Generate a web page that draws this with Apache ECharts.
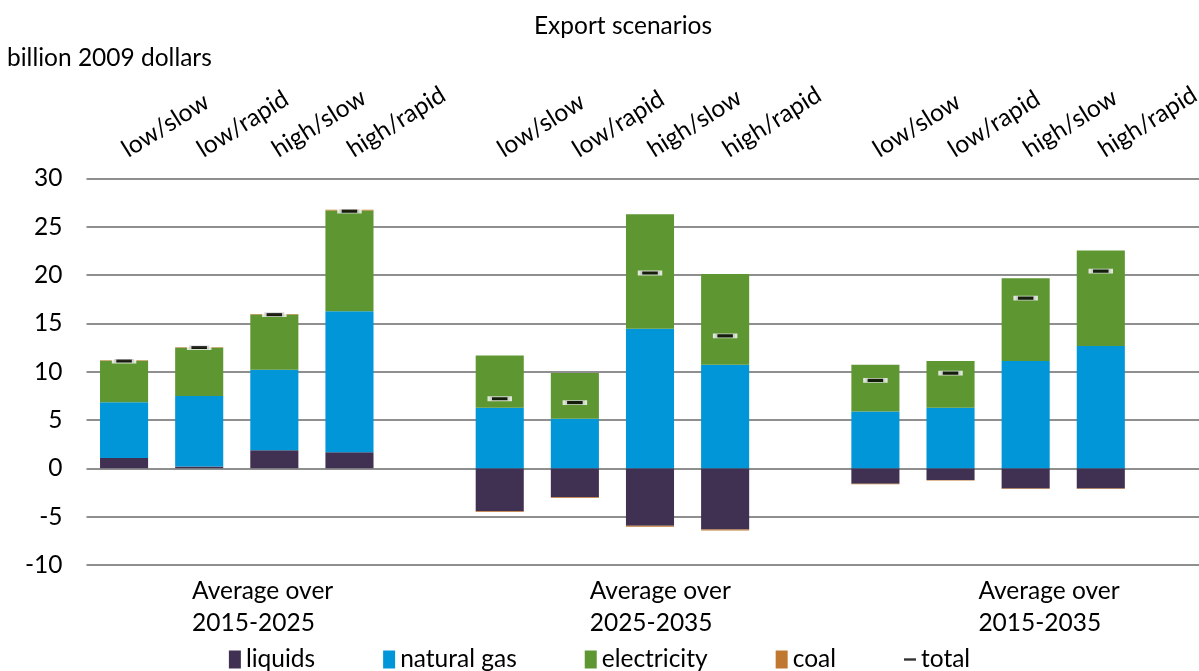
<!DOCTYPE html>
<html>
<head>
<meta charset="utf-8">
<title>Export scenarios</title>
<script src="https://cdn.jsdelivr.net/npm/echarts@6/dist/echarts.min.js"></script>
<style>
  html, body { margin: 0; padding: 0; background: #fff; }
  #chart { width: 1199px; height: 671px; }
</style>
</head>
<body>
<div id="chart"></div>
<script>
  // 数据：每组 4 个情景，共 3 组
  const scenarios = ['low/slow', 'low/rapid', 'high/slow', 'high/rapid']
  const periods = ['Average over\n2015-2025', 'Average over\n2025-2035', 'Average over\n2015-2035']
  const liquids = [1.08, 0.18, 1.87, 1.66, -4.44, -3.0, -5.94, -6.32, -1.6, -1.2, -2.08, -2.08]
  const naturalGas = [5.76, 7.29, 8.33, 14.58, 6.26, 5.12, 14.45, 10.72, 5.88, 6.26, 11.1, 12.65]
  const electricity = [4.29, 5.01, 5.7, 10.44, 5.42, 4.73, 11.82, 9.38, 4.84, 4.84, 8.57, 9.88]
  const coal = [0.05, 0.04, 0.06, 0.06, -0.08, -0.07, -0.1, -0.1, -0.06, -0.07, -0.06, -0.06]
  const total = [11.1, 12.5, 15.9, 26.6, 7.2, 6.8, 20.2, 13.7, 9.1, 9.85, 17.6, 20.4]
  const yTicks = { min: -10, max: 30, interval: 5 }

  const textColor = '#000'
  const fontFamily = 'Lato'
  const fontSize = 24.5
  const colors = {
    liquids: '#403152',
    gas: '#0096d7',
    electricity: '#5e9732',
    coal: '#c0772f'
  }

  // 每组之后插一个空位，3 组 -> 15 个位置
  function withGaps(arr) {
    const out = []
    arr.forEach((v, i) => {
      out.push(v)
      if (i % 4 === 3) out.push(null)
    })
    return out
  }
  const slots = withGaps(scenarios.concat(scenarios, scenarios)).map((v) => v ?? '')
  // 底部分组标签挂在每组第一个位置上，用 rich 的 padding 往右推
  const periodAt = {}
  periods.forEach((p, g) => { periodAt[g * 5] = g })

  const barBase = {
    type: 'bar',
    stack: 'exports',
    barWidth: '64%',
    xAxisIndex: 0,
    yAxisIndex: 0
  }

  // 右边最后一个空位被画布裁掉一截，所以给固定宽度，不让它往里缩
  const gridBox = { left: 86.5, width: 1127, top: 178.3, bottom: 106, outerBoundsMode: 'none', containLabel: false }

  const chart = echarts.init(document.getElementById('chart'))
  chart.setOption({
    animation: false,
    textStyle: { fontFamily: fontFamily, color: textColor },
    title: [
      {
        text: 'Export scenarios',
        left: 618,
        top: 9,
        textAlign: 'center',
        textStyle: { fontSize: fontSize, fontWeight: 'normal', color: textColor, fontFamily: fontFamily }
      },
      {
        text: 'billion 2009 dollars',
        left: 2,
        top: 41,
        textStyle: { fontSize: fontSize, fontWeight: 'normal', color: textColor, fontFamily: fontFamily }
      }
    ],
    legend: {
      bottom: -6,
      left: 'center',
      itemWidth: 12,
      itemHeight: 18,
      itemGap: 68,
      selectedMode: false,
      textStyle: { fontSize: fontSize, color: textColor, fontFamily: fontFamily },
      data: [
        { name: 'liquids', icon: 'rect' },
        { name: 'natural gas', icon: 'rect' },
        { name: 'electricity', icon: 'rect' },
        { name: 'coal', icon: 'rect' },
        { name: 'total', icon: 'path://M0,8H10V10H0Z', itemStyle: { color: '#000', borderWidth: 0 } }
      ]
    },
    grid: [
      { ...gridBox },
      // 顶部情景标签单独一个网格
      { ...gridBox }
    ],
    xAxis: [
      {
        type: 'category',
        gridIndex: 0,
        data: slots,
        position: 'bottom',
        axisLine: { show: false, onZero: false },
        axisTick: { show: false },
        axisLabel: {
          interval: 0,
          margin: 10,
          align: 'left',
          fontSize: fontSize,
          lineHeight: 32,
          color: textColor,
          fontFamily: fontFamily,
          formatter: (v, i) => (periodAt[i] === undefined ? '' : periods[periodAt[i]]
            .split('\n').map((s) => '{g' + periodAt[i] + '|' + s + '}').join('\n')),
          rich: {
            g0: { fontSize: fontSize, lineHeight: 32, padding: [0, 0, 0, 68] },
            g1: { fontSize: fontSize, lineHeight: 32, padding: [0, 0, 0, 90] },
            g2: { fontSize: fontSize, lineHeight: 32, padding: [0, 0, 0, 103] }
          }
        }
      },
      {
        type: 'category',
        gridIndex: 1,
        data: slots,
        position: 'top',
        axisLine: { show: false, onZero: false },
        axisTick: { show: false },
        axisLabel: {
          interval: 0,
          // v6 里顶部轴的旋转方向和预期相反，这里取负
          rotate: -32,
          margin: 27,
          fontSize: fontSize,
          color: textColor,
          fontFamily: fontFamily
        }
      }
    ],
    yAxis: [
      {
        type: 'value',
        gridIndex: 0,
        min: yTicks.min,
        max: yTicks.max,
        interval: yTicks.interval,
        axisLine: { show: false },
        axisTick: { show: false },
        axisLabel: { fontSize: fontSize, margin: 24, color: textColor, fontFamily: fontFamily },
        splitLine: { lineStyle: { color: '#8f8f8f', width: 2 } }
      },
      {
        type: 'value',
        gridIndex: 1,
        min: yTicks.min,
        max: yTicks.max,
        show: false
      }
    ],
    series: [
      { ...barBase, name: 'liquids', data: withGaps(liquids), itemStyle: { color: colors.liquids } },
      { ...barBase, name: 'natural gas', data: withGaps(naturalGas), itemStyle: { color: colors.gas } },
      { ...barBase, name: 'electricity', data: withGaps(electricity), itemStyle: { color: colors.electricity } },
      { ...barBase, name: 'coal', data: withGaps(coal), itemStyle: { color: colors.coal } },
      {
        type: 'scatter',
        name: 'total',
        xAxisIndex: 0,
        yAxisIndex: 0,
        data: withGaps(total),
        symbol: 'rect',
        symbolSize: [20, 4],
        z: 5,
        itemStyle: { color: '#000', borderColor: '#fff', borderWidth: 2 }
      }
    ]
  })
</script>
</body>
</html>
